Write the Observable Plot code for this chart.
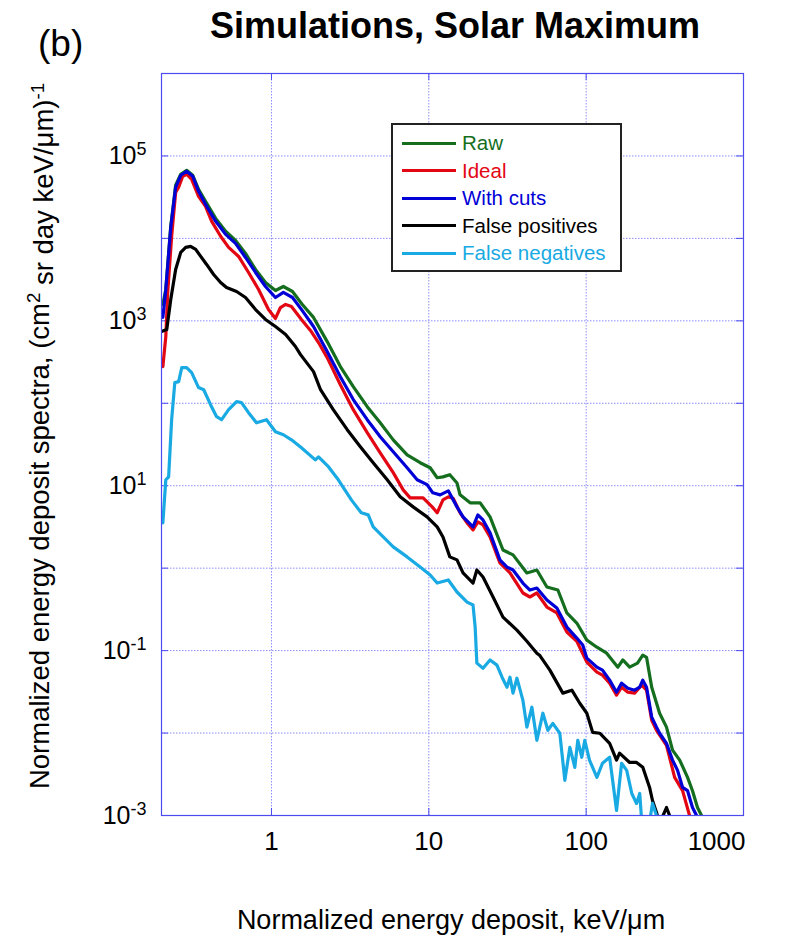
<!DOCTYPE html>
<html><head><meta charset="utf-8">
<script src="https://cdn.jsdelivr.net/npm/d3@7"></script>
<script src="https://cdn.jsdelivr.net/npm/@observablehq/plot@0.6"></script>
<style>
body{margin:0;background:#fff;font-family:"Liberation Sans",Arial,Helvetica,sans-serif;}
#wrap{position:relative;width:791px;height:949px;overflow:hidden;}
#chart{position:absolute;left:0;top:0;}
#title{position:absolute;left:0;width:910px;top:8px;text-align:center;font-weight:bold;font-size:36px;line-height:36px;white-space:nowrap;}
#panel{position:absolute;left:38px;top:25px;font-size:37px;line-height:37px;}
#legend{position:absolute;left:391px;top:123px;width:227px;height:145px;border:2px solid #222;background:#fff;}
#legend .sw{position:absolute;left:9px;width:54px;height:3px;}
#legend .lb{position:absolute;left:69px;font-size:20.5px;line-height:22px;white-space:nowrap;}
</style>
</head><body>
<div id="wrap">
  <div id="chart"></div>
  <div id="panel">(b)</div>
  <div id="title">Simulations, Solar Maximum</div>
  <div id="legend"></div>
</div>
<script>
// ---- data (x: keV/um, y: spectra) ----
const seriesNames = ["Raw", "Ideal", "With cuts", "False positives", "False negatives"];
const seriesColors = ["#146e1e", "#e30613", "#0000d6", "#000000", "#19aae3"];

const rawX = [0.204,0.213,0.229,0.246,0.265,0.289,0.316,0.344,0.381,0.442,0.511,0.591,0.684,0.792,0.916,1.06,1.19,1.36,1.57,1.85,2.26,2.74,3.31,4.06,4.91,5.94,7.28,8.81,10.2,11.3,12.3,13.6,15.1,15.8,18.3,21.2,24.5,29.6,34.3,42.0,48.6,56.3,66.1,75.4,87.2,101,117,135,159,171,189,212,229,242,261,293,324,354,393,441,474,510,541];
const rawY = [1580,2400,14000,44100,60000,67000,58300,39400,28200,17500,12200,9460,6570,4200,2920,2330,2610,2270,1580,1100,560,279,159,91,58,36,23.7,19.0,16.5,12.5,12.8,13.6,10.8,7.75,6.2,6.2,4.19,1.66,1.45,0.875,0.95,0.59,0.543,0.286,0.216,0.134,0.110,0.093,0.063,0.077,0.063,0.0705,0.088,0.083,0.036,0.0174,0.0118,0.0062,0.0047,0.0029,0.0020,0.00125,0.001];

const idealX = [0.204,0.213,0.219,0.232,0.246,0.257,0.273,0.289,0.311,0.344,0.381,0.417,0.475,0.534,0.618,0.715,0.828,0.957,1.06,1.14,1.23,1.34,1.55,1.79,1.99,2.26,2.74,3.31,4.06,4.91,5.94,6.87,7.61,9.20,10.5,11.3,12.3,13.3,14.3,15.8,17.5,19.1,20.5,22.1,24.5,28.3,32.8,39.6,43.9,48.6,56.3,65.1,75.4,87.2,101,117,127,141,156,168,184,203,225,242,261,280,324,365,410,454];
const idealY = [279,644,2210,10600,36200,41700,56700,60000,52100,32400,24500,16100,10600,7780,6040,3860,2400,1370,1070,1450,1580,1490,1040,741,545,358,168,83.6,44,25.1,14.4,8.9,7.13,7.13,5.54,4.69,6.74,7.33,7.0,4.69,3.54,2.91,3.64,3.35,2.39,1.16,0.875,0.50,0.447,0.50,0.338,0.286,0.168,0.130,0.0725,0.0548,0.0504,0.0403,0.0288,0.036,0.0313,0.0305,0.0381,0.0331,0.0143,0.0108,0.0071,0.0029,0.0020,0.001];

const cutsX = [0.204,0.213,0.229,0.246,0.265,0.289,0.316,0.344,0.381,0.442,0.511,0.591,0.684,0.792,0.916,1.06,1.19,1.36,1.57,1.85,2.26,2.74,3.31,4.06,4.91,5.94,7.28,8.43,9.75,10.6,11.8,13.3,15.1,16.5,19.1,20.5,22.1,24.5,28.3,31.4,34.3,39.6,43.9,48.6,56.3,65.1,75.4,87.2,95.1,101,117,127,141,156,168,184,203,219,229,242,261,280,293,324,354,381,410,441,474,503];
const cutsY = [1100,2400,13600,41700,58300,65200,56700,37200,25900,16100,11200,8690,5870,3860,2610,1920,2210,1920,1330,853,424,210,111,63.2,39.3,25.8,16.5,11.8,10.3,8.2,7.75,8.67,5.54,4.19,3.17,4.43,3.85,2.68,1.26,1.03,0.95,0.66,0.543,0.574,0.411,0.328,0.193,0.142,0.117,0.081,0.063,0.058,0.0438,0.0313,0.0403,0.035,0.0331,0.036,0.0438,0.036,0.0156,0.0118,0.00995,0.0075,0.0047,0.00353,0.00219,0.0020,0.00125,0.001];

const falsePosX = [0.200,0.216,0.229,0.246,0.265,0.285,0.306,0.330,0.355,0.387,0.429,0.475,0.518,0.600,0.684,0.792,0.916,1.06,1.23,1.42,1.53,1.85,2.05,2.47,3.03,3.67,4.43,5.44,6.58,7.95,9.75,11.3,12.3,13.6,15.1,16.5,19.1,20.2,22.1,25.6,29.6,36.3,42.0,48.6,50.8,58.8,71.1,81.1,91.1,101,110,122,141,156,163,189,209,229,253,264,280,293,324,339];
const falsePosY = [741,784,1815,4200,6760,7780,8000,7350,6040,4830,3650,2920,2540,2270,1920,1370,1040,853,682,488,389,242,146,83.6,47.8,29.7,19.0,11.8,7.33,5.54,4.19,3.17,2.39,1.37,1.26,0.875,0.66,0.95,0.78,0.447,0.255,0.177,0.130,0.093,0.087,0.058,0.0305,0.0331,0.023,0.0174,0.0102,0.00995,0.0075,0.0047,0.0057,0.0044,0.0044,0.00384,0.00219,0.00152,0.00109,0.0008,0.00125,0.001];

const falseNegX = [0.204,0.213,0.222,0.232,0.243,0.257,0.269,0.289,0.311,0.344,0.371,0.410,0.448,0.482,0.534,0.600,0.645,0.715,0.803,0.930,1.06,1.19,1.34,1.55,1.90,1.99,2.30,2.66,3.22,3.72,4.12,4.43,5.13,5.94,7.28,8.81,10.2,11.3,13.3,15.1,17.5,19.1,19.7,20.2,22.1,24.5,27.1,29.2,31.4,32.8,34.3,36.3,39.6,42.0,45.2,48.6,53.1,57.1,61.4,68.0,73.2,78.8,84.7,88.5,93.8,98.0,105,117,127,141,156,168,181,195,209,219,225,246,264,285];
const falseNegY = [3.54,11.8,12.8,63.2,178,183,271,271,235,155,146,96.2,68.7,63.2,83.6,105,102,76.9,58,63.2,45.2,41.5,36,28.9,20.6,22.4,17.0,11.8,6.74,4.69,4.43,3.17,2.39,1.81,1.37,1.03,0.826,0.66,0.719,0.514,0.388,0.357,0.193,0.0705,0.0612,0.077,0.0667,0.0476,0.036,0.0476,0.0305,0.0463,0.0251,0.0118,0.0206,0.00817,0.0174,0.0108,0.0131,0.00995,0.00267,0.00672,0.00384,0.00817,0.00508,0.00817,0.0047,0.0029,0.0043,0.00508,0.00115,0.0043,0.00353,0.00185,0.0014,0.00185,0.0009,0.0006,0.0014,0.0009];

const xTicks = [1, 10, 100, 1000];
const xGrid = [1, 10, 100];
const yTicks = [1e-3, 1e-1, 1e1, 1e3, 1e5];
const yGrid = [1e-2, 1e-1, 1, 1e1, 1e2, 1e3, 1e4, 1e5];
const yAllDecades = [1e-3, 1e-2, 1e-1, 1, 1e1, 1e2, 1e3, 1e4, 1e5, 1e6];
const xAllTicks = [1, 10, 100];
const xLabel = "Normalized energy deposit, keV/\u03bcm";

// ---- build ----
const seriesXs = [rawX, idealX, cutsX, falsePosX, falseNegX];
const seriesYs = [rawY, idealY, cutsY, falsePosY, falseNegY];
const frameColor = "#4b4bf0";
const gridColor = "#8c8cff";

const W = 791, H = 949, mT = 73, mL = 161, mR = 48, mB = 134;
const innerW = W - mL - mR, innerH = H - mT - mB;
const tickLen = 7;

const lineMarks = seriesNames.map((name, i) => {
  const rows = seriesXs[i].map((x, j) => ({x, y: seriesYs[i][j], series: name}));
  return Plot.line(rows, {x: "x", y: "y", stroke: seriesColors[i], strokeWidth: 3.2, strokeLinejoin: "round", clip: true});
});

const chart = Plot.plot({
  width: W, height: H,
  marginTop: mT, marginLeft: mL, marginRight: mR, marginBottom: mB,
  style: {fontFamily: '"Liberation Sans", Arial, Helvetica, sans-serif', fontSize: "26px", color: "#000", background: "transparent"},
  x: {type: "log", domain: [0.2, 1000]},
  y: {type: "log", domain: [1e-3, 1e6]},
  marks: [
    Plot.ruleX(xGrid, {stroke: gridColor, strokeDasharray: "1.5,1.5", strokeWidth: 1}),
    Plot.ruleY(yGrid, {stroke: gridColor, strokeDasharray: "1.5,1.5", strokeWidth: 1}),
    Plot.ruleY(yAllDecades, {stroke: frameColor, insetRight: innerW - tickLen}),
    Plot.ruleY(yAllDecades, {stroke: frameColor, insetLeft: innerW - tickLen}),
    Plot.ruleX(xAllTicks, {stroke: frameColor, insetTop: innerH - tickLen}),
    Plot.ruleX(xAllTicks, {stroke: frameColor, insetBottom: innerH - tickLen}),
    ...lineMarks,
    Plot.frame({stroke: frameColor, strokeWidth: 1.2}),
    Plot.axisX(xTicks, {tickSize: 0, tickPadding: 16, label: null, tickFormat: d => String(d), fontSize: 26}),
    Plot.axisY(yTicks, {tickSize: 0, tickPadding: 15, label: null, tickFormat: d => "10|" + Math.round(Math.log10(d)), fontSize: 25})
  ]
});
document.getElementById("chart").appendChild(chart);

const svg = d3.select(chart);
// superscript tick labels
svg.selectAll('g[aria-label="y-axis tick label"] text').each(function() {
  const t = d3.select(this);
  const parts = t.text().split("|");
  if (parts.length !== 2) return;
  t.text(null);
  t.append("tspan").text("10");
  t.append("tspan").attr("dy", "-0.5em").attr("font-size", "0.72em").text(parts[1]);
});
// last x tick label kept inside the figure, right-aligned to the frame edge
svg.selectAll('g[aria-label="x-axis tick label"] text').each(function() {
  const t = d3.select(this);
  if (t.text() === "1000") t.attr("text-anchor", "end").attr("dx", 2);
});

// axis labels
const yl = svg.append("text")
  .attr("transform", "translate(49,436) rotate(-90)")
  .attr("text-anchor", "middle")
  .attr("font-size", 27.5)
  .attr("fill", "#000");
yl.append("tspan").text("Normalized energy deposit spectra, (cm");
yl.append("tspan").attr("dy", "-0.5em").attr("font-size", "0.68em").text("2");
yl.append("tspan").attr("dy", "0.5em").text(" sr day keV/\u03bcm)");
yl.append("tspan").attr("dy", "-0.5em").attr("font-size", "0.68em").text("-1");

svg.append("text")
  .attr("x", 451).attr("y", 929)
  .attr("text-anchor", "middle")
  .attr("font-size", 27)
  .attr("fill", "#000")
  .text(xLabel);

// legend
const lg = document.getElementById("legend");
seriesNames.forEach((name, i) => {
  const cy = 18 + i * 27.5;
  const sw = document.createElement("div");
  sw.className = "sw";
  sw.style.top = (cy - 1.5) + "px";
  sw.style.background = seriesColors[i];
  lg.appendChild(sw);
  const lb = document.createElement("div");
  lb.className = "lb";
  lb.style.top = (cy - 11) + "px";
  lb.style.color = seriesColors[i];
  lb.textContent = name;
  lg.appendChild(lb);
});
</script>
</body></html>
